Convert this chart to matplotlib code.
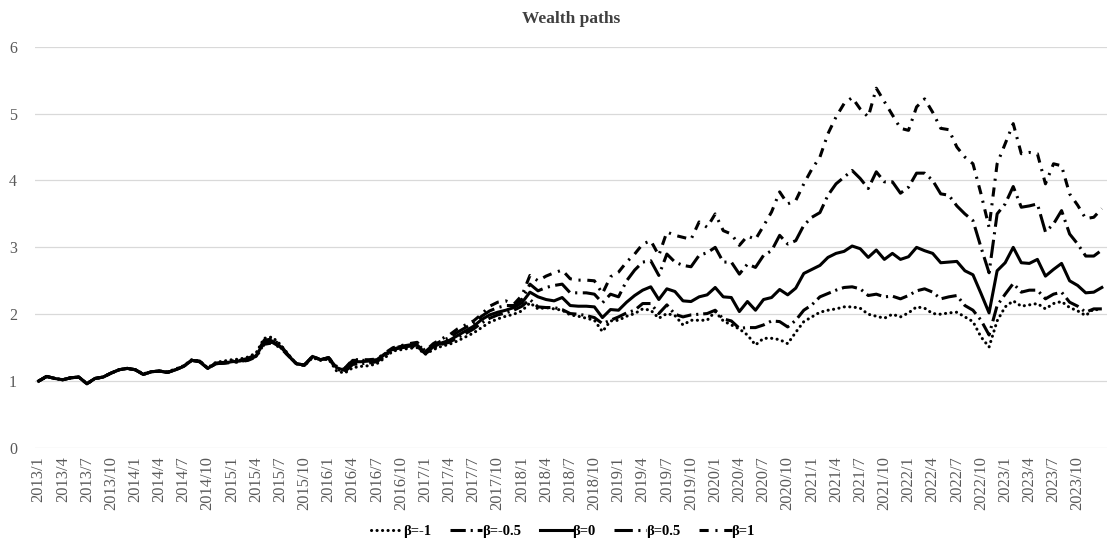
import matplotlib
matplotlib.use("Agg")
import matplotlib.pyplot as plt

plt.rcParams["font.family"] = ["Liberation Serif", "DejaVu Serif"]

# Monthly categories, 2013/1 .. 2024/1
months = [f"{2013 + k // 12}/{k % 12 + 1}" for k in range(133)]

beta_m1 = [
    1.00, 1.07, 1.04, 1.02, 1.05, 1.06, 0.96, 1.04, 1.06, 1.12, 1.17, 1.19,
    1.17, 1.11, 1.14, 1.15, 1.14, 1.18, 1.23, 1.32, 1.30, 1.20, 1.28, 1.30,
    1.32, 1.33, 1.36, 1.42, 1.64, 1.66, 1.55, 1.40, 1.26, 1.23, 1.35, 1.31,
    1.33, 1.15, 1.12, 1.20, 1.22, 1.23, 1.26, 1.35, 1.45, 1.47, 1.49, 1.50,
    1.40, 1.47, 1.52, 1.55, 1.60, 1.66, 1.72, 1.80, 1.88, 1.93, 1.97, 2.00,
    2.05, 2.17, 2.08, 2.10, 2.08, 2.06, 1.99, 1.97, 1.94, 1.91, 1.74, 1.90,
    1.91, 1.97, 2.01, 2.08, 2.06, 1.94, 2.01, 1.98, 1.84, 1.91, 1.91, 1.91,
    2.04, 1.90, 1.84, 1.78, 1.69, 1.54, 1.64, 1.64, 1.62, 1.56, 1.73, 1.89,
    1.96, 2.03, 2.06, 2.08, 2.11, 2.11, 2.09, 2.00, 1.97, 1.94, 2.00, 1.96,
    2.02, 2.11, 2.09, 2.01, 2.00, 2.02, 2.03, 1.96, 1.89, 1.66, 1.51, 1.90,
    2.11, 2.20, 2.12, 2.14, 2.16, 2.08, 2.16, 2.19, 2.10, 2.05, 1.98, 2.08,
    2.05,
]

beta_m05 = [
    1.00, 1.07, 1.04, 1.02, 1.05, 1.06, 0.96, 1.04, 1.06, 1.12, 1.17, 1.19,
    1.17, 1.10, 1.14, 1.15, 1.13, 1.17, 1.22, 1.31, 1.30, 1.19, 1.27, 1.28,
    1.30, 1.31, 1.34, 1.40, 1.61, 1.63, 1.54, 1.39, 1.26, 1.24, 1.36, 1.32,
    1.34, 1.18, 1.14, 1.25, 1.26, 1.27, 1.29, 1.38, 1.47, 1.50, 1.51, 1.52,
    1.41, 1.49, 1.55, 1.58, 1.65, 1.71, 1.78, 1.87, 1.94, 1.99, 2.02, 2.06,
    2.12, 2.22, 2.11, 2.10, 2.10, 2.07, 2.01, 2.00, 1.98, 1.95, 1.86, 1.91,
    1.96, 2.02, 2.06, 2.16, 2.16, 2.01, 2.14, 2.00, 1.96, 1.99, 2.00, 2.01,
    2.06, 1.93, 1.90, 1.79, 1.80, 1.80, 1.84, 1.90, 1.89, 1.81, 1.91, 2.06,
    2.14, 2.26, 2.31, 2.36, 2.40, 2.41, 2.38, 2.28, 2.30, 2.26, 2.27, 2.23,
    2.28, 2.35, 2.38, 2.33, 2.23, 2.26, 2.28, 2.13, 2.06, 1.91, 1.69, 2.13,
    2.30, 2.46, 2.33, 2.36, 2.36, 2.23, 2.30, 2.33, 2.18, 2.12, 2.03, 2.08,
    2.08,
]

beta_0 = [
    1.00, 1.07, 1.04, 1.02, 1.05, 1.06, 0.96, 1.04, 1.06, 1.12, 1.17, 1.19,
    1.17, 1.10, 1.14, 1.15, 1.13, 1.17, 1.22, 1.31, 1.29, 1.19, 1.26, 1.27,
    1.29, 1.30, 1.33, 1.38, 1.58, 1.60, 1.52, 1.38, 1.26, 1.24, 1.37, 1.32,
    1.35, 1.20, 1.16, 1.29, 1.29, 1.30, 1.31, 1.40, 1.48, 1.51, 1.52, 1.54,
    1.42, 1.51, 1.57, 1.61, 1.68, 1.75, 1.82, 1.92, 1.99, 2.03, 2.06, 2.10,
    2.17, 2.33, 2.26, 2.22, 2.20, 2.25, 2.13, 2.12, 2.12, 2.11, 1.95, 2.07,
    2.06, 2.18, 2.28, 2.36, 2.41, 2.22, 2.38, 2.34, 2.20, 2.19, 2.26, 2.29,
    2.40, 2.26, 2.25, 2.04, 2.19, 2.06, 2.22, 2.25, 2.37, 2.29, 2.39, 2.61,
    2.67, 2.73, 2.85, 2.91, 2.94, 3.02, 2.98, 2.85, 2.96, 2.82, 2.91, 2.82,
    2.86, 3.00, 2.95, 2.91, 2.77, 2.78, 2.79, 2.65, 2.59, 2.31, 2.02, 2.65,
    2.77, 3.00, 2.77, 2.76, 2.82, 2.57, 2.67, 2.76, 2.50, 2.43, 2.32, 2.33,
    2.40,
]

beta_05 = [
    1.00, 1.07, 1.04, 1.02, 1.05, 1.06, 0.96, 1.04, 1.06, 1.12, 1.17, 1.19,
    1.17, 1.10, 1.14, 1.15, 1.13, 1.17, 1.22, 1.31, 1.29, 1.19, 1.26, 1.27,
    1.28, 1.29, 1.32, 1.37, 1.56, 1.58, 1.51, 1.38, 1.26, 1.24, 1.37, 1.32,
    1.35, 1.21, 1.18, 1.31, 1.31, 1.31, 1.32, 1.41, 1.49, 1.52, 1.54, 1.56,
    1.44, 1.54, 1.60, 1.65, 1.73, 1.80, 1.87, 1.97, 2.05, 2.10, 2.13, 2.13,
    2.22, 2.45, 2.35, 2.40, 2.43, 2.45, 2.32, 2.32, 2.32, 2.30, 2.17, 2.30,
    2.26, 2.50, 2.66, 2.78, 2.80, 2.58, 2.90, 2.78, 2.73, 2.71, 2.88, 2.92,
    3.00, 2.78, 2.78, 2.60, 2.75, 2.70, 2.88, 2.95, 3.18, 3.05, 3.10, 3.33,
    3.45, 3.52, 3.78, 3.95, 4.05, 4.15, 4.03, 3.88, 4.13, 3.98, 3.98, 3.81,
    3.90, 4.11, 4.11, 4.00, 3.80, 3.78, 3.62, 3.50, 3.40, 3.00, 2.62, 3.50,
    3.65, 3.91, 3.60, 3.62, 3.65, 3.23, 3.35, 3.55, 3.20, 3.05, 2.87, 2.87,
    2.96,
]

beta_1 = [
    1.00, 1.07, 1.04, 1.02, 1.05, 1.06, 0.96, 1.04, 1.06, 1.12, 1.17, 1.19,
    1.17, 1.10, 1.14, 1.15, 1.13, 1.17, 1.22, 1.31, 1.29, 1.19, 1.26, 1.27,
    1.28, 1.29, 1.31, 1.36, 1.55, 1.57, 1.50, 1.38, 1.26, 1.24, 1.37, 1.32,
    1.35, 1.22, 1.19, 1.32, 1.32, 1.32, 1.33, 1.42, 1.50, 1.53, 1.56, 1.58,
    1.45, 1.56, 1.63, 1.69, 1.78, 1.84, 1.90, 2.00, 2.12, 2.18, 2.20, 2.15,
    2.28, 2.58, 2.50, 2.57, 2.62, 2.66, 2.53, 2.51, 2.51, 2.50, 2.31, 2.56,
    2.63, 2.78, 2.90, 3.05, 3.10, 2.88, 3.23, 3.18, 3.15, 3.12, 3.38, 3.30,
    3.50, 3.25, 3.20, 3.03, 3.17, 3.12, 3.32, 3.53, 3.83, 3.65, 3.70, 3.95,
    4.17, 4.35, 4.70, 4.95, 5.15, 5.24, 5.07, 4.95, 5.38, 5.18, 4.98, 4.78,
    4.75, 5.10, 5.22, 5.02, 4.78, 4.76, 4.50, 4.35, 4.25, 3.80, 3.30, 4.25,
    4.55, 4.85, 4.40, 4.42, 4.40, 3.95, 4.25, 4.22, 3.80, 3.63, 3.43, 3.45,
    3.58,
]

series_labels = ["β=-1", "β=-0.5", "β=0", "β=0.5", "β=1"]

fig = plt.figure(figsize=(11.1, 5.5), dpi=100)
ax = fig.add_axes([0.0315, 0.1855, 0.9655, 0.7295])

x = list(range(len(months)))
lw = 2.2
ax.plot(x, beta_m1, color="black", lw=lw, linestyle=(0, (0.05, 1.75)),
        dash_capstyle="round", label=series_labels[0])
ax.plot(x, beta_m05, color="black", lw=lw, linestyle=(0, (5.0, 1.6, 0.7, 1.6)),
        label=series_labels[1])
ax.plot(x, beta_0, color="black", lw=lw, linestyle="-", label=series_labels[2])
ax.plot(x, beta_05, color="black", lw=lw, linestyle=(0, (6.0, 1.8, 0.7, 1.8)),
        label=series_labels[3])
ax.plot(x, beta_1, color="black", lw=lw, linestyle=(0, (3.0, 2.2, 0.7, 2.2)),
        label=series_labels[4])

ax.set_ylim(0, 6)
ax.set_xlim(-0.45, 132.6)
ax.set_yticks(range(0, 7))
ticks = list(range(0, 130, 3))
ax.set_xticks(ticks)
ax.set_xticklabels([months[t] for t in ticks], rotation=90, fontsize=11.8,
                   color="#595959")
ax.tick_params(axis="y", length=0, pad=13, labelsize=11.5, labelcolor="#595959")
ax.tick_params(axis="x", length=0, pad=6)
for lab in ax.get_yticklabels():
    lab.set_horizontalalignment("right")

ax.grid(axis="y", color="#d9d9d9", lw=0.9)
ax.set_axisbelow(True)
for s in ax.spines.values():
    s.set_visible(False)

ax.set_title("Wealth paths", fontsize=12.5, fontweight="bold", color="#404040",
             pad=17)

leg = fig.legend(loc="center", bbox_to_anchor=(0.507, 0.033), ncol=5,
                 frameon=False, handlelength=2.2, handletextpad=0.0,
                 columnspacing=1.3, prop={"weight": "bold", "size": 10.5})

fig.savefig("out.png", dpi=100)
